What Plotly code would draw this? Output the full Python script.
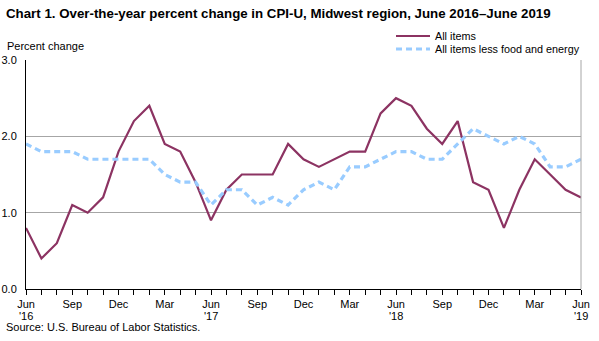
import plotly.graph_objects as go

# Monthly over-the-year percent change, June 2016 through June 2019
months = list(range(37))
all_items = [0.8, 0.4, 0.6, 1.1, 1.0, 1.2, 1.8, 2.2, 2.4, 1.9, 1.8, 1.4,
             0.9, 1.3, 1.5, 1.5, 1.5, 1.9, 1.7, 1.6, 1.7, 1.8, 1.8, 2.3,
             2.5, 2.4, 2.1, 1.9, 2.2, 1.4, 1.3, 0.8, 1.3, 1.7, 1.5, 1.3,
             1.2]
core_items = [1.9, 1.8, 1.8, 1.8, 1.7, 1.7, 1.7, 1.7, 1.7, 1.5, 1.4, 1.4,
              1.1, 1.3, 1.3, 1.1, 1.2, 1.1, 1.3, 1.4, 1.3, 1.6, 1.6, 1.7,
              1.8, 1.8, 1.7, 1.7, 1.9, 2.1, 2.0, 1.9, 2.0, 1.9, 1.6, 1.6,
              1.7]
tick_positions = list(range(0, 37, 3))
tick_labels = ["Jun", "Sep", "Dec", "Mar", "Jun", "Sep", "Dec",
               "Mar", "Jun", "Sep", "Dec", "Mar", "Jun"]
year_positions = [0, 12, 24, 36]
year_labels = ["'16", "'17", "'18", "'19"]
y_ticks = [0, 1, 2, 3]
y_labels = ["0.0", "1.0", "2.0", "3.0"]

FONT = "Liberation Sans, Arial, sans-serif"
RED = "#8C3362"
BLUE = "#99CCFF"

fig = go.Figure()
fig.add_trace(go.Scatter(x=months, y=all_items, mode="lines", name="All items",
                         line=dict(color=RED, width=2.2)))
fig.add_trace(go.Scatter(x=months, y=core_items, mode="lines",
                         name="All items less food and energy",
                         line=dict(color=BLUE, width=3.2, dash="6px,4px")))

W, H = 599, 341
ML, MR, MT, MB = 26, 18, 60, 52
PW, PH = W - ML - MR, H - MT - MB


def px_x(p):
    return (p - ML) / PW


def px_y(p):
    return (H - MB - p) / PH


fig.update_layout(
    width=W, height=H,
    margin=dict(l=ML, r=MR, t=MT, b=MB),
    paper_bgcolor="white", plot_bgcolor="white",
    font=dict(family=FONT, size=11, color="black"),
    showlegend=False,
    xaxis=dict(range=[0, 36], tickmode="array", tickvals=tick_positions,
               ticktext=tick_labels, ticks="outside", ticklen=5,
               tickcolor="black", showline=True, linecolor="black",
               linewidth=1, showgrid=False, zeroline=False, automargin=False,
               minor=dict(ticks="outside", dtick=1, tick0=0, ticklen=5,
                          tickcolor="black", showgrid=False),
               tickfont=dict(size=11, family=FONT)),
    yaxis=dict(range=[0, 3], tickmode="array", tickvals=y_ticks,
               ticktext=y_labels, ticks="outside", ticklen=6,
               tickcolor="rgba(0,0,0,0)", showline=True,
               linecolor="black", linewidth=1, showgrid=True,
               gridcolor="#A6A6A6", gridwidth=1, zeroline=False,
               automargin=False, tickfont=dict(size=11, family=FONT)),
)

# right-hand frame edge
fig.add_shape(type="line", xref="paper", yref="paper", x0=1, x1=1, y0=0, y1=1,
              line=dict(color="#A6A6A6", width=1))

# year labels under the June ticks
for pos, lab in zip(year_positions, year_labels):
    fig.add_annotation(text=lab, x=pos, xref="x", y=px_y(316), yref="paper",
                       xanchor="center", yanchor="middle", showarrow=False,
                       font=dict(size=11, family=FONT))

# legend
legend_rows = [("All items", RED, 2.2, "solid", 36),
               ("All items less food and energy", BLUE, 3.2, "6px,4px", 49)]
for name, color, width, dash, ypix in legend_rows:
    fig.add_shape(type="line", xref="paper", yref="paper",
                  x0=px_x(396), x1=px_x(430), y0=px_y(ypix), y1=px_y(ypix),
                  line=dict(color=color, width=width, dash=dash))
    fig.add_annotation(text=name, xref="paper", yref="paper",
                       x=px_x(433), y=px_y(ypix), xanchor="left",
                       yanchor="middle", showarrow=False,
                       font=dict(size=10.8, family=FONT))

fig.add_annotation(text="<b>Chart 1. Over-the-year percent change in CPI-U, Midwest region, June 2016\u2013June 2019</b>",
                   xref="paper", yref="paper", x=px_x(4), y=px_y(14),
                   xanchor="left", yanchor="middle", showarrow=False,
                   font=dict(size=13.3, family=FONT))
fig.add_annotation(text="Percent change", xref="paper", yref="paper",
                   x=px_x(5), y=px_y(46), xanchor="left", yanchor="middle",
                   showarrow=False, font=dict(size=11, family=FONT))
fig.add_annotation(text="Source: U.S. Bureau of Labor Statistics.",
                   xref="paper", yref="paper", x=px_x(4), y=px_y(327),
                   xanchor="left", yanchor="middle", showarrow=False,
                   font=dict(size=11, family=FONT))

fig.write_html("out.html")
